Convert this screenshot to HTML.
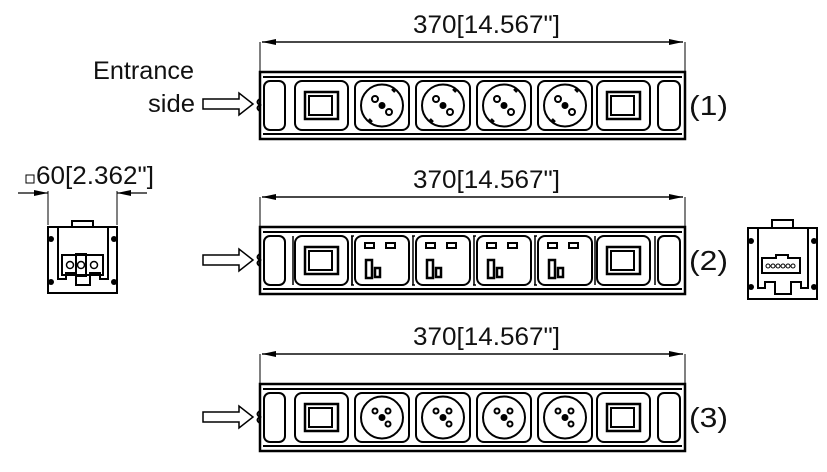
<!DOCTYPE html>
<html><head><meta charset="utf-8"><style>
html,body{margin:0;padding:0;background:#fff;width:827px;height:472px;overflow:hidden}
svg{display:block}
text{font-family:"Liberation Sans",sans-serif;fill:#111}
</style></head><body>
<svg width="827" height="472" viewBox="0 0 827 472" xmlns="http://www.w3.org/2000/svg">
<defs>
<marker id="ar" markerWidth="14" markerHeight="6" refX="14" refY="3" orient="auto" markerUnits="userSpaceOnUse"><path d="M0,0 L14,3 L0,6 Z" fill="#000"/></marker>
<g id="body">
  <rect x="260" y="0" width="425" height="67" fill="none" stroke="#000" stroke-width="2.5"/>
  <line x1="263" y1="5" x2="682" y2="5" stroke="#000" stroke-width="2"/>
  <line x1="263" y1="62" x2="682" y2="62" stroke="#000" stroke-width="2"/>
  <rect x="264" y="9" width="21" height="49" rx="6" fill="none" stroke="#000" stroke-width="2"/>
  <rect x="658" y="9" width="22" height="49" rx="6" fill="none" stroke="#000" stroke-width="2"/>
  <path d="M260,27 q-5,3 0,6 q-5,3 0,6" fill="none" stroke="#000" stroke-width="2"/>
  <g id="sw">
    <rect x="295" y="9" width="53" height="49" rx="7" fill="none" stroke="#000" stroke-width="2"/>
    <rect x="305" y="20" width="33" height="27" fill="none" stroke="#000" stroke-width="2.5"/>
    <rect x="309" y="24" width="23" height="19" fill="none" stroke="#000" stroke-width="2"/>
  </g>
  <use href="#sw" x="302"/>
</g>
<g id="schuko">
  <rect x="0" y="0" width="54" height="49" rx="7" fill="none" stroke="#000" stroke-width="2"/>
  <circle cx="27" cy="24.5" r="21" fill="none" stroke="#000" stroke-width="2"/>
  <circle cx="20" cy="18" r="3" fill="none" stroke="#000" stroke-width="2"/>
  <circle cx="34" cy="31" r="3" fill="none" stroke="#000" stroke-width="2"/>
  <circle cx="27" cy="24.5" r="3.5" fill="#000"/>
  <line x1="37" y1="8" x2="40" y2="11" stroke="#000" stroke-width="2.5"/>
  <line x1="14" y1="38" x2="17" y2="41" stroke="#000" stroke-width="2.5"/>
</g>
<g id="uk">
  <rect x="0" y="0" width="54" height="49" rx="7" fill="none" stroke="#000" stroke-width="2"/>
  <circle cx="27" cy="24.5" r="21" fill="none" stroke="#000" stroke-width="2"/>
  <circle cx="20" cy="18" r="2.5" fill="none" stroke="#000" stroke-width="2"/>
  <circle cx="33" cy="18" r="2.5" fill="none" stroke="#000" stroke-width="2"/>
  <circle cx="33" cy="31" r="2.5" fill="none" stroke="#000" stroke-width="2"/>
  <circle cx="27" cy="24.5" r="3.5" fill="#000"/>
</g>
<g id="cn">
  <path d="M-4,0 h3 M-4,49 h3 M-3,0 v49" fill="none" stroke="#000" stroke-width="1.5"/>
  <rect x="0" y="0" width="54" height="49" rx="7" fill="none" stroke="#000" stroke-width="2"/>
  <rect x="10" y="7" width="9" height="5" fill="none" stroke="#000" stroke-width="2"/>
  <rect x="31" y="7" width="9" height="5" fill="none" stroke="#000" stroke-width="2"/>
  <rect x="11" y="24" width="6" height="18" fill="none" stroke="#000" stroke-width="2.5"/>
  <rect x="20" y="32" width="5" height="9" fill="none" stroke="#000" stroke-width="2.5"/>
</g>
<g id="dim">
  <line x1="260" y1="0" x2="260" y2="36" stroke="#000" stroke-width="1"/>
  <line x1="685" y1="0" x2="685" y2="36" stroke="#000" stroke-width="1"/>
  <line x1="262" y1="0" x2="683" y2="0" stroke="#000" stroke-width="1.2" marker-end="url(#ar)"/>
  <line x1="683" y1="0" x2="262" y2="0" stroke="#000" stroke-width="1.2" marker-end="url(#ar)"/>
  <text x="413" y="-9" font-size="25" textLength="147" lengthAdjust="spacingAndGlyphs">370[14.567"]</text>
</g>
<path id="arrow" d="M0,-5 H36 V-11 L50,0 L36,11 V5 H0 Z" fill="#fff" stroke="#000" stroke-width="1.5"/>
</defs>

<!-- strip 1 -->
<use href="#dim" y="42"/>
<g transform="translate(0,72)">
  <use href="#body"/>
  <use href="#schuko" x="355" y="9"/><use href="#schuko" x="416" y="9"/>
  <use href="#schuko" x="477" y="9"/><use href="#schuko" x="538" y="9"/>
</g>
<text x="93" y="79" font-size="25" textLength="101" lengthAdjust="spacingAndGlyphs">Entrance</text>
<text x="148" y="112" font-size="25" textLength="47" lengthAdjust="spacingAndGlyphs">side</text>
<use href="#arrow" x="203" y="104"/>
<text x="689" y="115" font-size="28" textLength="39" lengthAdjust="spacingAndGlyphs">(1)</text>

<!-- strip 2 -->
<use href="#dim" y="197"/>
<g transform="translate(0,227)">
  <use href="#body"/>
  <use href="#cn" x="355" y="9"/><use href="#cn" x="416" y="9"/>
  <use href="#cn" x="477" y="9"/><use href="#cn" x="538" y="9"/>
  <path d="M293,9 v49 M352,9 v49 M595,9 v49 M655,9 v49" stroke="#000" stroke-width="1.5"/>
</g>
<use href="#arrow" x="203" y="260"/>
<text x="689" y="270" font-size="28" textLength="39" lengthAdjust="spacingAndGlyphs">(2)</text>

<!-- strip 3 -->
<use href="#dim" y="354"/>
<g transform="translate(0,384)">
  <use href="#body"/>
  <use href="#uk" x="355" y="9"/><use href="#uk" x="416" y="9"/>
  <use href="#uk" x="477" y="9"/><use href="#uk" x="538" y="9"/>
</g>
<use href="#arrow" x="203" y="417"/>
<text x="689" y="427" font-size="28" textLength="39" lengthAdjust="spacingAndGlyphs">(3)</text>

<!-- left end view -->
<rect x="26" y="175" width="8" height="8" fill="none" stroke="#000" stroke-width="1"/>
<text x="36" y="184" font-size="25" textLength="118" lengthAdjust="spacingAndGlyphs">60[2.362"]</text>
<line x1="48" y1="191" x2="48" y2="225" stroke="#000" stroke-width="1"/>
<line x1="117" y1="191" x2="117" y2="225" stroke="#000" stroke-width="1"/>
<line x1="18" y1="193" x2="48" y2="193" stroke="#000" stroke-width="1.2" marker-end="url(#ar)"/>
<line x1="147" y1="193" x2="117" y2="193" stroke="#000" stroke-width="1.2" marker-end="url(#ar)"/>
<g fill="none" stroke="#000" stroke-width="2">
  <path d="M48,227 h69 v66 h-69 Z"/>
  <path d="M72,227 v-6 h21 v6"/>
  <path d="M58,227 v52 h8 v-6 h10 v12 h14 v-12 h10 v6 h8 v-52"/>
  <rect x="62" y="255" width="41" height="20"/>
  <rect x="76" y="254" width="10" height="22"/>
</g>
<g fill="#000"><circle cx="51" cy="239" r="3"/><circle cx="114" cy="239" r="3"/><circle cx="51" cy="282" r="3"/><circle cx="114" cy="282" r="3"/></g>
<g fill="none" stroke="#000" stroke-width="1.5"><circle cx="70" cy="265" r="3.5"/><circle cx="81" cy="265" r="3.5"/><circle cx="94" cy="265" r="3.5"/></g>

<!-- right end view -->
<g fill="none" stroke="#000" stroke-width="2">
  <path d="M748,228 h69 v71 h-69 Z"/>
  <path d="M772,228 v-8 h21 v8"/>
  <path d="M758,228 v60 h7 v-6 h10 v12 h16 v-12 h10 v6 h7 v-60"/>
  <path d="M762,258 h14 v-3 h12 v3 h12 v15 h-38 Z"/>
</g>
<g fill="#000"><circle cx="751" cy="241" r="3"/><circle cx="814" cy="241" r="3"/><circle cx="751" cy="287" r="3"/><circle cx="814" cy="287" r="3"/></g>
<g fill="none" stroke="#000" stroke-width="1"><circle cx="768" cy="266" r="2"/><circle cx="773" cy="266" r="2"/><circle cx="778" cy="266" r="2"/><circle cx="783" cy="266" r="2"/><circle cx="788" cy="266" r="2"/><circle cx="793" cy="266" r="2"/></g>
</svg>
</body></html>
